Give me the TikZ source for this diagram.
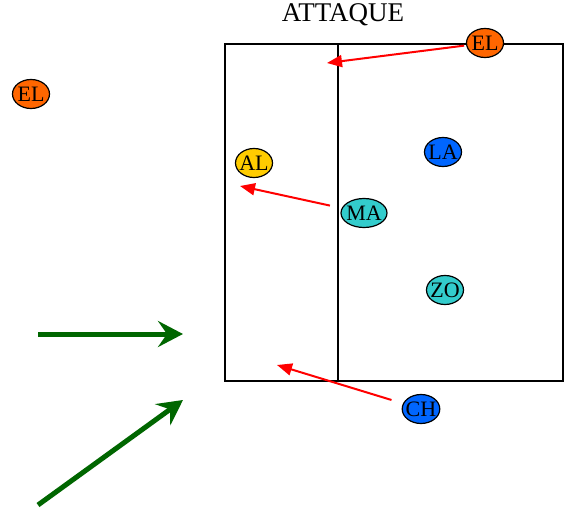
\documentclass[tikz,border=0pt]{standalone}
\usepackage{fontspec}
\setmainfont{Liberation Serif}
\usetikzlibrary{shapes.geometric,arrows.meta}
\definecolor{elorange}{HTML}{FF6600}
\definecolor{algold}{HTML}{FFCC00}
\definecolor{plblue}{HTML}{0066FF}
\definecolor{plteal}{HTML}{33CCCC}
\definecolor{arrgreen}{HTML}{006600}
\tikzset{
  player/.style={ellipse, draw=black, line width=1.2pt, inner xsep=-2pt, inner ysep=0pt,
    minimum width=37pt, minimum height=29pt, font=\fontsize{22}{22}\selectfont},
  pass/.style={draw=red, line width=2pt, -{Triangle[length=15pt,width=12pt]}},
  run/.style={draw=arrgreen, line width=5pt, -{Stealth[length=25pt,width=26pt,inset=9pt]}},
  court/.style={draw=black, line width=1.8pt}
}
\begin{document}
\begin{tikzpicture}[x=1pt,y=-1pt]
\useasboundingbox (0,0) rectangle (568,513);
\node[font=\fontsize{27}{27}\selectfont] (title) at (343,15) {ATTAQUE};
\draw[court] (225,44) rectangle (563,381);
\draw[court] (338,44) -- (338,381);
\node[player, fill=elorange] (el1) at (485,43) {EL};
\node[player, fill=elorange] (el2) at (31,94) {EL};
\node[player, fill=algold] (al) at (254,163) {AL};
\node[player, fill=plblue] (la) at (443,152) {LA};
\node[player, fill=plteal, minimum width=46pt] (ma) at (364,213) {MA};
\node[player, fill=plteal] (zo) at (445,290) {ZO};
\node[player, fill=plblue] (ch) at (421,409) {CH};
\coordinate (t1) at (327,63);
\coordinate (t2) at (240,186);
\coordinate (t3) at (277,365);
\draw[pass, shorten <=2pt] (el1) -- (t1);
\draw[pass, shorten <=12pt] (ma) -- (t2);
\draw[pass, shorten <=12pt] (ch) -- (t3);
\coordinate (g1s) at (38,334);
\coordinate (g1e) at (183,334);
\coordinate (g2s) at (38,505);
\coordinate (g2e) at (183,400);
\draw[run] (g1s) -- (g1e);
\draw[run] (g2s) -- (g2e);
\end{tikzpicture}
\end{document}
